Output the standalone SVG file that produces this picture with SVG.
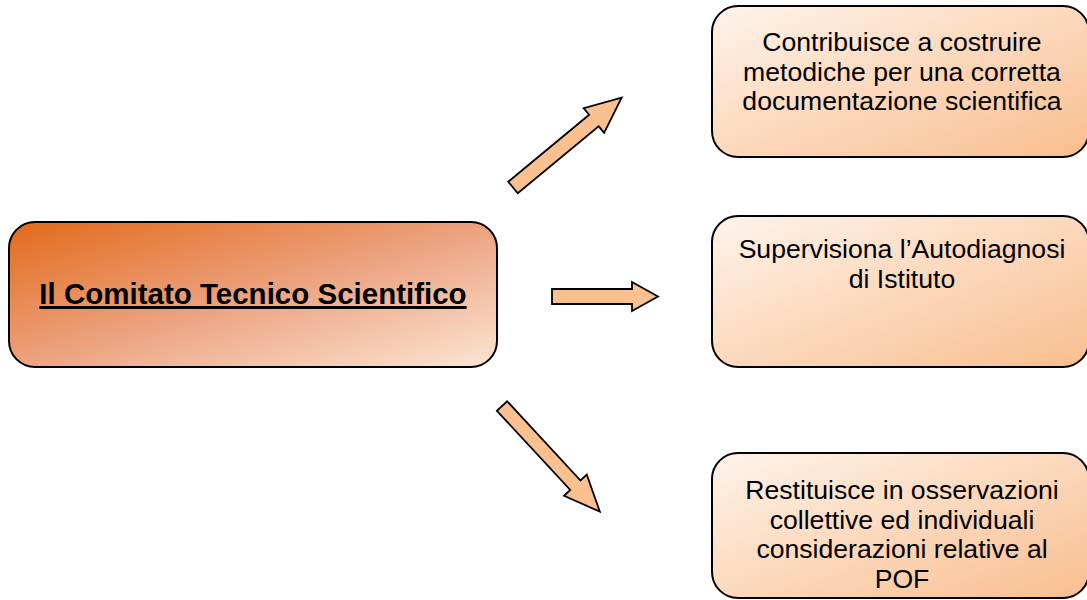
<svg xmlns="http://www.w3.org/2000/svg" width="1087" height="600" viewBox="0 0 1087 600">
  <defs>
    <linearGradient id="gradMain" x1="0" y1="0" x2="1" y2="1">
      <stop offset="0" stop-color="#E36A1A"/>
      <stop offset="0.5" stop-color="#ECA27F"/>
      <stop offset="1" stop-color="#FBE5D3"/>
    </linearGradient>
    <linearGradient id="gradSide" x1="0" y1="0" x2="1" y2="1">
      <stop offset="0" stop-color="#FEF3EA"/>
      <stop offset="1" stop-color="#F9BE8E"/>
    </linearGradient>
    <style>
      .box { stroke: #000; stroke-width: 2; }
      .main { fill: url(#gradMain); }
      .side { fill: url(#gradSide); }
      .arrow { fill: #FAC090; stroke: #000; stroke-width: 1.8; stroke-linejoin: miter; }
      .label { font-family: "Liberation Sans", Arial, sans-serif; font-size: 26.6px; fill: #000; text-anchor: middle; }
      .title { font-family: "Liberation Sans", Arial, sans-serif; font-size: 29.5px; font-weight: bold; fill: #000; text-anchor: middle; text-decoration: underline; }
    </style>
  </defs>

  <rect width="1087" height="600" fill="#fff"/>

  <!-- connectors -->
  <g id="connectors">
    <polygon class="arrow" transform="translate(513,187.5) rotate(-39.6)" points="0,-7.5 105,-7.5 105,-16 141,0 105,16 105,7.5 0,7.5"/>
    <polygon class="arrow" points="552,289 632,289 632,282 658,296.5 632,311 632,304 552,304"/>
    <polygon class="arrow" transform="translate(502,406) rotate(47.2)" points="0,-7 108,-7 108,-15.5 144,0 108,15.5 108,7 0,7"/>
  </g>

  <!-- central node -->
  <g id="node-comitato">
    <rect class="box main" x="9" y="222" width="488" height="145" rx="26" ry="26"/>
    <text class="title" x="253" y="304">Il Comitato Tecnico Scientifico</text>
  </g>

  <!-- right nodes -->
  <g id="node-contribuisce">
    <rect class="box side" x="712" y="6" width="377" height="151" rx="26" ry="26"/>
    <text class="label" x="902" y="51">Contribuisce a costruire</text>
    <text class="label" x="902" y="80.5">metodiche per una corretta</text>
    <text class="label" x="902" y="110">documentazione scientifica</text>
  </g>

  <g id="node-supervisiona">
    <rect class="box side" x="712" y="216" width="377" height="151" rx="26" ry="26"/>
    <text class="label" x="902" y="258">Supervisiona l’Autodiagnosi</text>
    <text class="label" x="902" y="287.5">di Istituto</text>
  </g>

  <g id="node-restituisce">
    <rect class="box side" x="712" y="453" width="377" height="145" rx="26" ry="26"/>
    <text class="label" x="902" y="499">Restituisce in osservazioni</text>
    <text class="label" x="902" y="528.5">collettive ed individuali</text>
    <text class="label" x="902" y="558">considerazioni relative al</text>
    <text class="label" x="902" y="587.5">POF</text>
  </g>
</svg>
